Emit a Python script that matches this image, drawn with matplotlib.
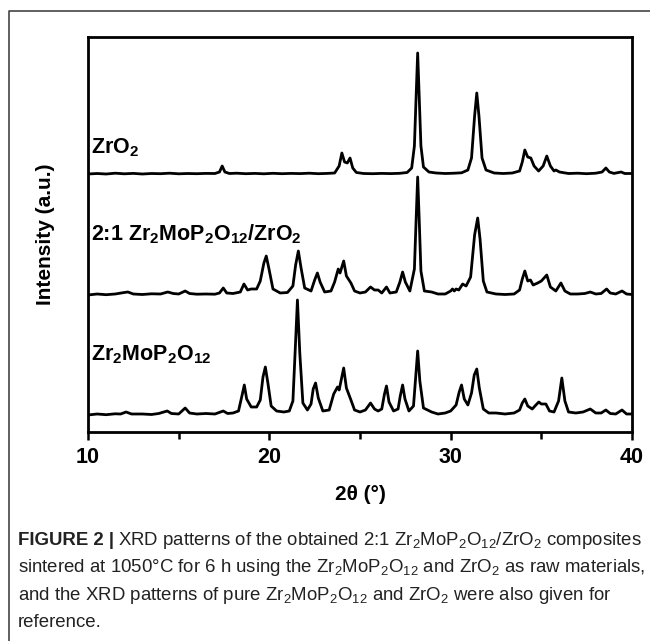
import matplotlib
matplotlib.use("Agg")
import matplotlib.pyplot as plt
from matplotlib import font_manager
from matplotlib.lines import Line2D
from matplotlib.ticker import MultipleLocator

names = {f.name for f in font_manager.fontManager.ttflist}
FONT = "Liberation Sans Narrow" if "Liberation Sans Narrow" in names else "Liberation Sans"

plt.rcParams["font.family"] = [FONT, "DejaVu Sans"]
plt.rcParams["mathtext.fontset"] = "custom"
plt.rcParams["mathtext.rm"] = FONT
plt.rcParams["mathtext.bf"] = FONT + ":bold"
plt.rcParams["mathtext.it"] = FONT + ":italic"

# ---------------- data (2theta in degrees, intensity in a.u.) ----------------
zro2_x = [10.0, 10.5, 11.0, 11.5, 12.0, 12.5, 13.0, 13.5, 14.0, 14.5, 15.0, 15.5, 16.0, 16.5,
          17.0, 17.25, 17.4, 17.55, 17.8, 18.2, 18.7, 19.2, 19.7, 20.2, 20.7, 21.2, 21.7,
          22.2, 22.7, 23.2, 23.6, 23.85, 24.0, 24.15, 24.3, 24.45, 24.6, 24.8, 25.2, 25.7,
          26.2, 26.7, 27.2, 27.6, 27.85, 28.0, 28.1, 28.18, 28.26, 28.36, 28.5, 28.8, 29.2,
          29.7, 30.2, 30.6, 30.95, 31.15, 31.32, 31.44, 31.56, 31.73, 31.95, 32.4, 32.9,
          33.4, 33.8, 33.95, 34.09, 34.25, 34.42, 34.6, 34.85, 35.1, 35.3, 35.5, 35.7, 35.8,
          36.0, 36.5, 37.0, 37.5, 38.0, 38.35, 38.56, 38.75, 39.0, 39.4, 39.6, 40.0]
zro2_y = [0, 0.5, 0, 0.8, 0.2, 0.6, 0, 0.5, 0.3, 0.8, 0.2, 0.5, 0.3, 0.6,
          0.5, 2, 8, 2, 0.5, 0.8, 0.3, 0.6, 0.2, 0.7, 0.3, 0.6, 0.4,
          0.8, 0.3, 0.6, 1, 8, 21, 12, 11, 16, 6, 1.5, 0.5, 0.3,
          0.6, 0.4, 0.7, 1.5, 6, 28, 80, 121, 80, 28, 7, 2, 1,
          0.5, 0.8, 1.2, 4, 16, 58, 81, 58, 16, 4, 1, 0.5,
          1, 3, 12, 24, 17, 16, 8, 3, 8, 18, 8, 3, 4,
          2, 0.5, 0.8, 0.3, 0.8, 2, 6, 2, 0.6, 2, 0.5, 0.5]

comp_x = [10.0, 10.5, 11.0, 11.5, 12.0, 12.2, 12.5, 13.0, 13.5, 14.0, 14.4, 14.7, 15.0, 15.36,
          15.6, 16.0, 16.5, 17.0, 17.25, 17.46, 17.65, 18.0, 18.4, 18.6, 18.8, 19.0, 19.3,
          19.5, 19.7, 19.83, 19.97, 20.2, 20.6, 21.0, 21.3, 21.45, 21.6, 21.75, 21.95, 22.3,
          22.5, 22.65, 22.8, 23.05, 23.4, 23.6, 23.8, 23.9, 24.1, 24.25, 24.5, 24.7, 25.0,
          25.3, 25.58, 25.8, 26.0, 26.2, 26.46, 26.65, 27.0, 27.2, 27.35, 27.5, 27.75, 28.0,
          28.1, 28.18, 28.26, 28.36, 28.55, 28.95, 29.3, 29.7, 30.0, 30.1, 30.2, 30.3, 30.45,
          30.66, 30.85, 31.1, 31.32, 31.49, 31.62, 31.8, 32.0, 32.5, 33.0, 33.5, 33.8, 33.95,
          34.09, 34.25, 34.4, 34.55, 34.8, 35.0, 35.3, 35.5, 35.8, 36.08, 36.3, 36.6, 37.0,
          37.4, 37.7, 38.0, 38.3, 38.6, 38.8, 39.1, 39.45, 39.7, 40.0]
comp_y = [0, 1, 0.3, 1, 2.5, 3, 1, 0.5, 1.2, 1, 3, 1.5, 1, 4,
          1.5, 0.8, 1, 0.8, 2, 7, 2, 1.5, 3, 11, 5, 6, 6,
          14, 32, 39, 27, 6, 2, 2.5, 9, 30, 44, 27, 7, 4,
          15, 22, 13, 3, 4, 13, 26, 22, 34, 19, 12, 4, 2,
          3, 8, 5, 5, 2, 8, 2, 3, 13, 23, 13, 4, 26,
          78, 118, 78, 24, 4, 3, 1, 1, 4, 6, 4, 6, 5,
          11, 9, 18, 60, 77, 56, 14, 3, 1, 0.5, 1, 5, 16,
          24, 14, 15, 10, 12, 14, 20, 8, 4, 12, 4, 1, 1,
          1.5, 3, 1, 1.5, 6, 2, 1, 4, 1, 0.5]

zmp_x = [10.0, 10.5, 11.0, 11.5, 11.8, 12.1, 12.4, 13.0, 13.5, 13.9, 14.37, 14.6, 15.0, 15.36,
         15.6, 16.0, 16.5, 17.0, 17.46, 17.7, 18.0, 18.3, 18.5, 18.62, 18.75, 19.0, 19.3,
         19.5, 19.65, 19.78, 19.92, 20.1, 20.4, 20.8, 21.1, 21.3, 21.42, 21.55, 21.68, 21.85,
         22.1, 22.3, 22.42, 22.55, 22.7, 22.95, 23.3, 23.55, 23.76, 23.85, 24.1, 24.25, 24.5,
         24.7, 25.0, 25.3, 25.58, 25.8, 26.0, 26.2, 26.35, 26.46, 26.6, 26.85, 27.1, 27.22,
         27.35, 27.48, 27.7, 27.95, 28.08, 28.18, 28.3, 28.5, 28.95, 29.3, 29.7, 30.0, 30.1,
         30.3, 30.47, 30.6, 30.75, 30.95, 31.15, 31.3, 31.44, 31.58, 31.8, 32.1, 32.5, 33.0,
         33.5, 33.8, 33.95, 34.09, 34.25, 34.5, 34.7, 34.86, 35.0, 35.25, 35.45, 35.7, 35.95,
         36.13, 36.3, 36.5, 36.9, 37.3, 37.7, 38.0, 38.3, 38.56, 38.8, 39.1, 39.45, 39.7, 40.0]
zmp_y = [0, 1, 0.3, 1.2, 1, 3, 1, 1, 0.5, 1.5, 4, 1.5, 1, 7,
         2, 1, 1.5, 1, 4, 1.5, 2, 4, 20, 30, 16, 8, 8,
         15, 38, 48, 32, 9, 4, 3, 4, 14, 62, 115, 62, 12,
         5, 11, 26, 32, 17, 4, 5, 21, 28, 25, 47, 27, 15,
         5, 3, 5, 12, 6, 4, 6, 21, 29, 13, 4, 6, 19,
         30, 16, 4, 9, 40, 64, 34, 7, 3, 1, 2, 4, 6,
         10, 23, 30, 16, 10, 22, 40, 46, 27, 6, 2, 2, 1,
         2, 5, 12, 16, 9, 6, 10, 13, 11, 11, 4, 3, 14,
         37, 14, 3, 2, 3, 6, 2, 2, 5, 1.5, 1, 5, 1, 1]

offsets = [258, 137, 17]
ylim_top = 395
x_ticks = [10, 20, 30, 40]

# ---------------- figure ----------------
fig = plt.figure(figsize=(6.5, 6.41), dpi=100)
ax = fig.add_axes([88 / 650, 1 - 432 / 641, (632 - 88) / 650, (432 - 37) / 641])

for xs, ys, off in [(zro2_x, zro2_y, offsets[0]), (comp_x, comp_y, offsets[1]),
                    (zmp_x, zmp_y, offsets[2])]:
    ax.plot(xs, [v + off for v in ys], color="black", lw=2.0, solid_joinstyle="round")

ax.set_xlim(10, 40)
ax.set_ylim(0, ylim_top)
ax.set_xticks(x_ticks)
ax.xaxis.set_minor_locator(MultipleLocator(5))
ax.set_yticks([])
ax.tick_params(axis="x", which="major", direction="out", length=6, width=1.8, pad=5,
               labelsize=15.5)
ax.tick_params(axis="x", which="minor", direction="out", length=5, width=1.8)
for lab in ax.get_xticklabels():
    lab.set_fontweight("bold")
for sp in ax.spines.values():
    sp.set_linewidth(2.0)

ax.set_xlabel(r"2θ (°)", fontsize=15, fontweight="bold", labelpad=12)
ax.set_ylabel("Intensity (a.u.)", fontsize=15, fontweight="bold", labelpad=24)

lbl = dict(fontsize=15.5, fontweight="bold", ha="left", va="baseline",
           transform=ax.transAxes)
ax.text(0.006, (432 - 153) / 395, r"ZrO$_\mathbf{2}$", **lbl)
ax.text(0.006, (432 - 240) / 395,
        r"2:1 Zr$_\mathbf{2}$MoP$_\mathbf{2}$O$_\mathbf{12}$/ZrO$_\mathbf{2}$", **lbl)
ax.text(0.006, (432 - 360) / 395, r"Zr$_\mathbf{2}$MoP$_\mathbf{2}$O$_\mathbf{12}$", **lbl)

# outer frame (left and top edges)
fx = 8.5 / 650
fy = 1 - 11 / 641
fig.add_artist(Line2D([fx, fx, 1.0], [0.0, fy, fy], transform=fig.transFigure,
                      color="#444444", lw=1.2))

# caption
cap_size = 13.4
cx = 18 / 650
line_y = [545, 572, 600, 627]
t0 = fig.text(cx, 1 - line_y[0] / 641, "FIGURE 2 |", fontsize=cap_size, fontweight="bold",
              va="baseline", ha="left", color="#222222")
fig.canvas.draw()
r = fig.canvas.get_renderer()
bb = t0.get_window_extent(renderer=r)
x1 = (bb.x1 + 4) / fig.bbox.width
fig.text(x1, 1 - line_y[0] / 641,
         r"XRD patterns of the obtained 2:1 Zr$_2$MoP$_2$O$_{12}$/ZrO$_2$ composites",
         fontsize=cap_size, va="baseline", ha="left", color="#222222")
fig.text(cx, 1 - line_y[1] / 641,
         r"sintered at 1050°C for 6 h using the Zr$_2$MoP$_2$O$_{12}$ and ZrO$_2$ as raw materials,",
         fontsize=cap_size, va="baseline", ha="left", color="#222222")
fig.text(cx, 1 - line_y[2] / 641,
         r"and the XRD patterns of pure Zr$_2$MoP$_2$O$_{12}$ and ZrO$_2$ were also given for",
         fontsize=cap_size, va="baseline", ha="left", color="#222222")
fig.text(cx, 1 - line_y[3] / 641, "reference.",
         fontsize=cap_size, va="baseline", ha="left", color="#222222")

fig.savefig("out.png", dpi=100)
